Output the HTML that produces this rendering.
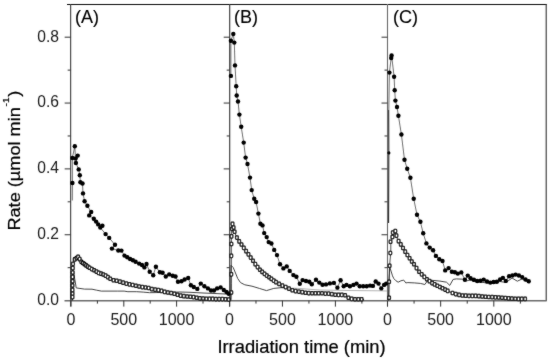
<!DOCTYPE html>
<html><head><meta charset="utf-8"><style>
html,body{margin:0;padding:0;background:#fff;width:550px;height:359px;overflow:hidden}
svg{display:block;filter:grayscale(1)}
</style></head><body><svg width="550" height="359" viewBox="0 0 550 359"><defs><filter id="b" filterUnits="userSpaceOnUse" x="0" y="0" width="550" height="359"><feConvolveMatrix order="3" kernelMatrix="0.3 0.7 0.3 0.7 10 0.7 0.3 0.7 0.3" edgeMode="duplicate" preserveAlpha="false"/></filter></defs><rect x="0" y="0" width="550" height="359" fill="#fff"/><g filter="url(#b)"><line x1="67" y1="4.5" x2="546.7" y2="4.5" stroke="#111" stroke-width="1.15"/><line x1="546.2" y1="4" x2="546.2" y2="301" stroke="#333" stroke-width="1.1"/><line x1="64.5" y1="300.7" x2="546.7" y2="300.7" stroke="#6a6a6a" stroke-width="1.6"/><line x1="70.65" y1="4" x2="70.65" y2="306.5" stroke="#3a3a3a" stroke-width="1.1"/><line x1="67.65" y1="267.68" x2="70.65" y2="267.68" stroke="#333" stroke-width="1"/><line x1="64.65" y1="234.75" x2="70.65" y2="234.75" stroke="#333" stroke-width="1"/><line x1="67.65" y1="201.82" x2="70.65" y2="201.82" stroke="#333" stroke-width="1"/><line x1="64.65" y1="168.90" x2="70.65" y2="168.90" stroke="#333" stroke-width="1"/><line x1="67.65" y1="135.98" x2="70.65" y2="135.98" stroke="#333" stroke-width="1"/><line x1="64.65" y1="103.05" x2="70.65" y2="103.05" stroke="#333" stroke-width="1"/><line x1="67.65" y1="70.12" x2="70.65" y2="70.12" stroke="#333" stroke-width="1"/><line x1="64.65" y1="37.20" x2="70.65" y2="37.20" stroke="#333" stroke-width="1"/><line x1="71.00" y1="300.6" x2="71.00" y2="306.6" stroke="#333" stroke-width="1"/><line x1="97.40" y1="300.6" x2="97.40" y2="303.6" stroke="#333" stroke-width="1"/><line x1="123.80" y1="300.6" x2="123.80" y2="306.6" stroke="#333" stroke-width="1"/><line x1="150.20" y1="300.6" x2="150.20" y2="303.6" stroke="#333" stroke-width="1"/><line x1="176.60" y1="300.6" x2="176.60" y2="306.6" stroke="#333" stroke-width="1"/><line x1="203.00" y1="300.6" x2="203.00" y2="303.6" stroke="#333" stroke-width="1"/><line x1="229.7" y1="4" x2="229.7" y2="306.5" stroke="#333" stroke-width="1.1"/><line x1="226.70" y1="267.68" x2="229.7" y2="267.68" stroke="#333" stroke-width="1"/><line x1="223.70" y1="234.75" x2="229.7" y2="234.75" stroke="#333" stroke-width="1"/><line x1="226.70" y1="201.82" x2="229.7" y2="201.82" stroke="#333" stroke-width="1"/><line x1="223.70" y1="168.90" x2="229.7" y2="168.90" stroke="#333" stroke-width="1"/><line x1="226.70" y1="135.98" x2="229.7" y2="135.98" stroke="#333" stroke-width="1"/><line x1="223.70" y1="103.05" x2="229.7" y2="103.05" stroke="#333" stroke-width="1"/><line x1="226.70" y1="70.12" x2="229.7" y2="70.12" stroke="#333" stroke-width="1"/><line x1="223.70" y1="37.20" x2="229.7" y2="37.20" stroke="#333" stroke-width="1"/><line x1="229.50" y1="300.6" x2="229.50" y2="306.6" stroke="#333" stroke-width="1"/><line x1="255.97" y1="300.6" x2="255.97" y2="303.6" stroke="#333" stroke-width="1"/><line x1="282.45" y1="300.6" x2="282.45" y2="306.6" stroke="#333" stroke-width="1"/><line x1="308.93" y1="300.6" x2="308.93" y2="303.6" stroke="#333" stroke-width="1"/><line x1="335.40" y1="300.6" x2="335.40" y2="306.6" stroke="#333" stroke-width="1"/><line x1="361.88" y1="300.6" x2="361.88" y2="303.6" stroke="#333" stroke-width="1"/><line x1="387.5" y1="4" x2="387.5" y2="306.5" stroke="#6a6a6a" stroke-width="1.1"/><line x1="384.50" y1="267.68" x2="387.5" y2="267.68" stroke="#333" stroke-width="1"/><line x1="381.50" y1="234.75" x2="387.5" y2="234.75" stroke="#333" stroke-width="1"/><line x1="384.50" y1="201.82" x2="387.5" y2="201.82" stroke="#333" stroke-width="1"/><line x1="381.50" y1="168.90" x2="387.5" y2="168.90" stroke="#333" stroke-width="1"/><line x1="384.50" y1="135.98" x2="387.5" y2="135.98" stroke="#333" stroke-width="1"/><line x1="381.50" y1="103.05" x2="387.5" y2="103.05" stroke="#333" stroke-width="1"/><line x1="384.50" y1="70.12" x2="387.5" y2="70.12" stroke="#333" stroke-width="1"/><line x1="381.50" y1="37.20" x2="387.5" y2="37.20" stroke="#333" stroke-width="1"/><line x1="387.50" y1="300.6" x2="387.50" y2="306.6" stroke="#333" stroke-width="1"/><line x1="414.07" y1="300.6" x2="414.07" y2="303.6" stroke="#333" stroke-width="1"/><line x1="440.65" y1="300.6" x2="440.65" y2="306.6" stroke="#333" stroke-width="1"/><line x1="467.23" y1="300.6" x2="467.23" y2="303.6" stroke="#333" stroke-width="1"/><line x1="493.80" y1="300.6" x2="493.80" y2="306.6" stroke="#333" stroke-width="1"/><line x1="520.38" y1="300.6" x2="520.38" y2="303.6" stroke="#333" stroke-width="1"/><text x="58.9" y="305.00" text-anchor="end" style="font-family:&quot;Liberation Sans&quot;,sans-serif;font-size:15.6px" fill="#1a1a1a">0.0</text><text x="58.9" y="239.15" text-anchor="end" style="font-family:&quot;Liberation Sans&quot;,sans-serif;font-size:15.6px" fill="#1a1a1a">0.2</text><text x="58.9" y="173.30" text-anchor="end" style="font-family:&quot;Liberation Sans&quot;,sans-serif;font-size:15.6px" fill="#1a1a1a">0.4</text><text x="58.9" y="107.45" text-anchor="end" style="font-family:&quot;Liberation Sans&quot;,sans-serif;font-size:15.6px" fill="#1a1a1a">0.6</text><text x="58.9" y="41.60" text-anchor="end" style="font-family:&quot;Liberation Sans&quot;,sans-serif;font-size:15.6px" fill="#1a1a1a">0.8</text><text x="71.00" y="324.6" text-anchor="middle" style="font-family:&quot;Liberation Sans&quot;,sans-serif;font-size:16px" fill="#1a1a1a">0</text><text x="123.80" y="324.6" text-anchor="middle" style="font-family:&quot;Liberation Sans&quot;,sans-serif;font-size:16px" fill="#1a1a1a">500</text><text x="176.60" y="324.6" text-anchor="middle" style="font-family:&quot;Liberation Sans&quot;,sans-serif;font-size:16px" fill="#1a1a1a">1000</text><text x="229.50" y="324.6" text-anchor="middle" style="font-family:&quot;Liberation Sans&quot;,sans-serif;font-size:16px" fill="#1a1a1a">0</text><text x="282.45" y="324.6" text-anchor="middle" style="font-family:&quot;Liberation Sans&quot;,sans-serif;font-size:16px" fill="#1a1a1a">500</text><text x="335.40" y="324.6" text-anchor="middle" style="font-family:&quot;Liberation Sans&quot;,sans-serif;font-size:16px" fill="#1a1a1a">1000</text><text x="387.50" y="324.6" text-anchor="middle" style="font-family:&quot;Liberation Sans&quot;,sans-serif;font-size:16px" fill="#1a1a1a">0</text><text x="440.65" y="324.6" text-anchor="middle" style="font-family:&quot;Liberation Sans&quot;,sans-serif;font-size:16px" fill="#1a1a1a">500</text><text x="493.80" y="324.6" text-anchor="middle" style="font-family:&quot;Liberation Sans&quot;,sans-serif;font-size:16px" fill="#1a1a1a">1000</text><text x="74.9" y="22.9" style="font-family:&quot;Liberation Sans&quot;,sans-serif;font-size:18px" fill="#000" stroke="#000" stroke-width="0.12">(A)</text><text x="233.9" y="22.9" style="font-family:&quot;Liberation Sans&quot;,sans-serif;font-size:18px" fill="#000" stroke="#000" stroke-width="0.12">(B)</text><text x="393.1" y="22.9" style="font-family:&quot;Liberation Sans&quot;,sans-serif;font-size:18px" fill="#000" stroke="#000" stroke-width="0.12">(C)</text><text x="217.4" y="352.6" style="font-family:&quot;Liberation Sans&quot;,sans-serif;font-size:18.35px" fill="#000" stroke="#000" stroke-width="0.22">Irradiation time (min)</text><text transform="translate(20.4,230.6) rotate(-90) scale(1.075,1)" x="0" y="0" style="font-family:&quot;Liberation Sans&quot;,sans-serif;font-size:16.9px" fill="#000" stroke="#000" stroke-width="0.22">Rate (µmol min<tspan dx="0.6" dy="-11.8" style="font-size:9.5px">-1</tspan><tspan dx="0.6" dy="11.8">)</tspan></text><polyline points="72.2,300.5 73.5,272.0 75.6,284.0 76.2,287.9 84.4,289.1 92.0,289.2 96.7,290.2 101.3,291.1 117.7,291.1 124.1,291.1 127.9,291.7 136.8,291.7 143.2,292.1 149.5,292.7 160.0,292.5 170.0,292.3 180.0,292.0 190.0,292.3 203.0,293.0 215.0,293.5 229.0,294.2" fill="none" stroke="#444" stroke-width="1.0"/><polyline points="230.6,300.5 231.0,265.3 233.2,267.5 235.9,274.0 237.7,278.5 240.5,282.6 244.8,284.8 252.0,286.2 259.3,288.4 266.5,290.6 273.8,288.4 281.0,287.7 289.5,288.0" fill="none" stroke="#444" stroke-width="1.0"/><polyline points="289.5,288.0 300.0,288.5 310.0,289.3 320.0,290.0 348.0,290.5 380.0,290.8 387.0,291.0" fill="none" stroke="#aaa" stroke-width="0.9"/><polyline points="388.3,300.5 389.5,266.0 392.5,275.9 393.9,278.7 396.0,280.8 398.1,282.2 400.9,280.8 403.7,280.1 405.8,282.9 407.9,282.6 414.2,282.9 420.3,283.4 424.9,284.5 428.0,279.9 440.0,281.1 446.5,282.2 449.8,285.4 453.1,279.4 456.4,278.9 462.9,279.2 466.0,281.0 470.0,280.0 474.0,281.5 480.0,282.0 487.0,283.0 493.0,283.5 500.0,281.5 506.0,282.5 512.0,278.0 517.3,281.2 522.0,279.0 528.0,282.0 530.0,283.0" fill="none" stroke="#444" stroke-width="1.0"/><polyline points="72.0,300.5 72.5,297.1 72.5,293.5 72.5,289.9 72.5,285.5 72.6,281.2 72.6,276.8 72.7,272.5 72.8,268.1 73.0,263.8 74.7,259.4 78.3,256.7 81.2,261.8 84.0,263.8 87.5,266.5 91.5,268.9 95.1,270.8 98.2,272.7 101.3,273.8 104.3,274.8 107.4,276.8 110.5,279.0 113.9,280.4 117.7,280.9 121.5,282.2 125.4,283.4 129.2,284.3 133.0,285.1 136.8,286.0 140.6,286.9 144.4,287.3 148.3,287.9 152.1,289.2 155.9,289.8 159.7,290.2 163.5,291.7 167.3,292.4 171.2,293.0 175.5,294.1 181.8,296.0 187.7,296.5 193.6,297.1 199.6,298.3 205.5,298.7 211.4,298.9 217.3,299.1 223.2,299.1 229.1,299.5" fill="none" stroke="#222" stroke-width="0.8"/><rect x="71.15" y="295.40" width="2.7" height="3.4" rx="0.7" fill="#fff" stroke="#000" stroke-width="1.25"/><rect x="71.15" y="291.80" width="2.7" height="3.4" rx="0.7" fill="#fff" stroke="#000" stroke-width="1.25"/><rect x="71.15" y="288.20" width="2.7" height="3.4" rx="0.7" fill="#fff" stroke="#000" stroke-width="1.25"/><rect x="71.15" y="283.80" width="2.7" height="3.4" rx="0.7" fill="#fff" stroke="#000" stroke-width="1.25"/><rect x="71.25" y="279.50" width="2.7" height="3.4" rx="0.7" fill="#fff" stroke="#000" stroke-width="1.25"/><rect x="71.25" y="275.10" width="2.7" height="3.4" rx="0.7" fill="#fff" stroke="#000" stroke-width="1.25"/><rect x="71.35" y="270.80" width="2.7" height="3.4" rx="0.7" fill="#fff" stroke="#000" stroke-width="1.25"/><rect x="71.45" y="266.40" width="2.7" height="3.4" rx="0.7" fill="#fff" stroke="#000" stroke-width="1.25"/><rect x="71.65" y="262.10" width="2.7" height="3.4" rx="0.7" fill="#fff" stroke="#000" stroke-width="1.25"/><rect x="73.35" y="257.70" width="2.7" height="3.4" rx="0.7" fill="#fff" stroke="#000" stroke-width="1.25"/><rect x="75.15" y="256.35" width="2.7" height="3.4" rx="0.7" fill="#fff" stroke="#000" stroke-width="1.25"/><rect x="76.75" y="255.15" width="2.7" height="3.4" rx="0.7" fill="#fff" stroke="#000" stroke-width="1.25"/><rect x="78.35" y="257.46" width="2.7" height="3.4" rx="0.7" fill="#fff" stroke="#000" stroke-width="1.25"/><rect x="79.95" y="260.17" width="2.7" height="3.4" rx="0.7" fill="#fff" stroke="#000" stroke-width="1.25"/><rect x="81.55" y="261.31" width="2.7" height="3.4" rx="0.7" fill="#fff" stroke="#000" stroke-width="1.25"/><rect x="83.15" y="262.49" width="2.7" height="3.4" rx="0.7" fill="#fff" stroke="#000" stroke-width="1.25"/><rect x="84.75" y="263.72" width="2.7" height="3.4" rx="0.7" fill="#fff" stroke="#000" stroke-width="1.25"/><rect x="86.35" y="264.92" width="2.7" height="3.4" rx="0.7" fill="#fff" stroke="#000" stroke-width="1.25"/><rect x="88.15" y="266.00" width="2.7" height="3.4" rx="0.7" fill="#fff" stroke="#000" stroke-width="1.25"/><rect x="90.45" y="267.36" width="2.7" height="3.4" rx="0.7" fill="#fff" stroke="#000" stroke-width="1.25"/><rect x="92.75" y="268.57" width="2.7" height="3.4" rx="0.7" fill="#fff" stroke="#000" stroke-width="1.25"/><rect x="95.05" y="269.90" width="2.7" height="3.4" rx="0.7" fill="#fff" stroke="#000" stroke-width="1.25"/><rect x="97.35" y="271.18" width="2.7" height="3.4" rx="0.7" fill="#fff" stroke="#000" stroke-width="1.25"/><rect x="99.65" y="271.99" width="2.7" height="3.4" rx="0.7" fill="#fff" stroke="#000" stroke-width="1.25"/><rect x="101.95" y="272.77" width="2.7" height="3.4" rx="0.7" fill="#fff" stroke="#000" stroke-width="1.25"/><rect x="104.25" y="273.94" width="2.7" height="3.4" rx="0.7" fill="#fff" stroke="#000" stroke-width="1.25"/><rect x="106.55" y="275.45" width="2.7" height="3.4" rx="0.7" fill="#fff" stroke="#000" stroke-width="1.25"/><rect x="108.85" y="277.09" width="2.7" height="3.4" rx="0.7" fill="#fff" stroke="#000" stroke-width="1.25"/><rect x="112.15" y="278.54" width="2.7" height="3.4" rx="0.7" fill="#fff" stroke="#000" stroke-width="1.25"/><rect x="115.35" y="279.07" width="2.7" height="3.4" rx="0.7" fill="#fff" stroke="#000" stroke-width="1.25"/><rect x="118.55" y="279.95" width="2.7" height="3.4" rx="0.7" fill="#fff" stroke="#000" stroke-width="1.25"/><rect x="121.75" y="280.99" width="2.7" height="3.4" rx="0.7" fill="#fff" stroke="#000" stroke-width="1.25"/><rect x="124.95" y="281.91" width="2.7" height="3.4" rx="0.7" fill="#fff" stroke="#000" stroke-width="1.25"/><rect x="128.15" y="282.66" width="2.7" height="3.4" rx="0.7" fill="#fff" stroke="#000" stroke-width="1.25"/><rect x="131.35" y="283.34" width="2.7" height="3.4" rx="0.7" fill="#fff" stroke="#000" stroke-width="1.25"/><rect x="134.55" y="284.09" width="2.7" height="3.4" rx="0.7" fill="#fff" stroke="#000" stroke-width="1.25"/><rect x="137.75" y="284.84" width="2.7" height="3.4" rx="0.7" fill="#fff" stroke="#000" stroke-width="1.25"/><rect x="140.95" y="285.38" width="2.7" height="3.4" rx="0.7" fill="#fff" stroke="#000" stroke-width="1.25"/><rect x="144.15" y="285.77" width="2.7" height="3.4" rx="0.7" fill="#fff" stroke="#000" stroke-width="1.25"/><rect x="147.35" y="286.34" width="2.7" height="3.4" rx="0.7" fill="#fff" stroke="#000" stroke-width="1.25"/><rect x="150.55" y="287.43" width="2.7" height="3.4" rx="0.7" fill="#fff" stroke="#000" stroke-width="1.25"/><rect x="153.75" y="287.97" width="2.7" height="3.4" rx="0.7" fill="#fff" stroke="#000" stroke-width="1.25"/><rect x="156.95" y="288.35" width="2.7" height="3.4" rx="0.7" fill="#fff" stroke="#000" stroke-width="1.25"/><rect x="160.15" y="289.21" width="2.7" height="3.4" rx="0.7" fill="#fff" stroke="#000" stroke-width="1.25"/><rect x="163.35" y="290.22" width="2.7" height="3.4" rx="0.7" fill="#fff" stroke="#000" stroke-width="1.25"/><rect x="166.55" y="290.79" width="2.7" height="3.4" rx="0.7" fill="#fff" stroke="#000" stroke-width="1.25"/><rect x="169.75" y="291.28" width="2.7" height="3.4" rx="0.7" fill="#fff" stroke="#000" stroke-width="1.25"/><rect x="172.95" y="292.09" width="2.7" height="3.4" rx="0.7" fill="#fff" stroke="#000" stroke-width="1.25"/><rect x="176.15" y="293.00" width="2.7" height="3.4" rx="0.7" fill="#fff" stroke="#000" stroke-width="1.25"/><rect x="179.35" y="293.97" width="2.7" height="3.4" rx="0.7" fill="#fff" stroke="#000" stroke-width="1.25"/><rect x="182.55" y="294.48" width="2.7" height="3.4" rx="0.7" fill="#fff" stroke="#000" stroke-width="1.25"/><rect x="185.75" y="294.75" width="2.7" height="3.4" rx="0.7" fill="#fff" stroke="#000" stroke-width="1.25"/><rect x="188.95" y="295.06" width="2.7" height="3.4" rx="0.7" fill="#fff" stroke="#000" stroke-width="1.25"/><rect x="192.15" y="295.39" width="2.7" height="3.4" rx="0.7" fill="#fff" stroke="#000" stroke-width="1.25"/><rect x="195.35" y="296.02" width="2.7" height="3.4" rx="0.7" fill="#fff" stroke="#000" stroke-width="1.25"/><rect x="198.55" y="296.62" width="2.7" height="3.4" rx="0.7" fill="#fff" stroke="#000" stroke-width="1.25"/><rect x="201.75" y="296.84" width="2.7" height="3.4" rx="0.7" fill="#fff" stroke="#000" stroke-width="1.25"/><rect x="204.95" y="297.03" width="2.7" height="3.4" rx="0.7" fill="#fff" stroke="#000" stroke-width="1.25"/><rect x="208.15" y="297.14" width="2.7" height="3.4" rx="0.7" fill="#fff" stroke="#000" stroke-width="1.25"/><rect x="211.35" y="297.24" width="2.7" height="3.4" rx="0.7" fill="#fff" stroke="#000" stroke-width="1.25"/><rect x="214.55" y="297.35" width="2.7" height="3.4" rx="0.7" fill="#fff" stroke="#000" stroke-width="1.25"/><rect x="217.75" y="297.40" width="2.7" height="3.4" rx="0.7" fill="#fff" stroke="#000" stroke-width="1.25"/><rect x="220.95" y="297.40" width="2.7" height="3.4" rx="0.7" fill="#fff" stroke="#000" stroke-width="1.25"/><rect x="224.15" y="297.56" width="2.7" height="3.4" rx="0.7" fill="#fff" stroke="#000" stroke-width="1.25"/><rect x="227.35" y="297.77" width="2.7" height="3.4" rx="0.7" fill="#fff" stroke="#000" stroke-width="1.25"/><polyline points="231.0,300.5 231.3,292.5 231.3,283.4 231.3,274.3 231.3,265.0 231.3,255.3 231.3,243.6 231.5,233.6 232.5,223.6 233.5,228.5 236.2,236.4 238.9,241.0 241.6,244.6 244.3,248.6 247.0,252.4 249.7,256.2 252.5,260.0 255.2,264.0 257.9,267.5 260.6,270.5 264.2,273.6 267.9,276.4 271.5,279.0 275.1,281.6 278.5,283.6 282.0,285.5 285.9,287.2 289.5,288.9 293.0,290.6 296.5,291.2 300.1,291.8 303.6,292.4 307.2,293.0 310.7,293.2 314.3,293.2 317.8,293.2 321.4,293.2 324.9,293.6 328.5,293.6 332.0,294.2 335.6,294.8 339.1,294.8 342.6,294.8 345.7,295.4 348.5,297.8 350.4,298.7 354.2,299.2 358.0,299.2 361.7,299.2 364.1,299.6" fill="none" stroke="#222" stroke-width="0.8"/><rect x="229.95" y="290.80" width="2.7" height="3.4" rx="0.7" fill="#fff" stroke="#000" stroke-width="1.25"/><rect x="229.95" y="272.60" width="2.7" height="3.4" rx="0.7" fill="#fff" stroke="#000" stroke-width="1.25"/><rect x="229.95" y="254.10" width="2.7" height="3.4" rx="0.7" fill="#fff" stroke="#000" stroke-width="1.25"/><rect x="230.05" y="242.30" width="2.7" height="3.4" rx="0.7" fill="#fff" stroke="#000" stroke-width="1.25"/><rect x="230.15" y="234.60" width="2.7" height="3.4" rx="0.7" fill="#fff" stroke="#000" stroke-width="1.25"/><rect x="230.65" y="227.10" width="2.7" height="3.4" rx="0.7" fill="#fff" stroke="#000" stroke-width="1.25"/><rect x="231.15" y="222.10" width="2.7" height="3.4" rx="0.7" fill="#fff" stroke="#000" stroke-width="1.25"/><rect x="232.25" y="225.80" width="2.7" height="3.4" rx="0.7" fill="#fff" stroke="#000" stroke-width="1.25"/><rect x="233.25" y="230.02" width="2.7" height="3.4" rx="0.7" fill="#fff" stroke="#000" stroke-width="1.25"/><rect x="235.55" y="235.89" width="2.7" height="3.4" rx="0.7" fill="#fff" stroke="#000" stroke-width="1.25"/><rect x="237.85" y="239.70" width="2.7" height="3.4" rx="0.7" fill="#fff" stroke="#000" stroke-width="1.25"/><rect x="240.15" y="242.77" width="2.7" height="3.4" rx="0.7" fill="#fff" stroke="#000" stroke-width="1.25"/><rect x="242.45" y="246.16" width="2.7" height="3.4" rx="0.7" fill="#fff" stroke="#000" stroke-width="1.25"/><rect x="244.75" y="249.43" width="2.7" height="3.4" rx="0.7" fill="#fff" stroke="#000" stroke-width="1.25"/><rect x="247.05" y="252.67" width="2.7" height="3.4" rx="0.7" fill="#fff" stroke="#000" stroke-width="1.25"/><rect x="249.35" y="255.86" width="2.7" height="3.4" rx="0.7" fill="#fff" stroke="#000" stroke-width="1.25"/><rect x="251.65" y="259.04" width="2.7" height="3.4" rx="0.7" fill="#fff" stroke="#000" stroke-width="1.25"/><rect x="253.95" y="262.43" width="2.7" height="3.4" rx="0.7" fill="#fff" stroke="#000" stroke-width="1.25"/><rect x="256.25" y="265.41" width="2.7" height="3.4" rx="0.7" fill="#fff" stroke="#000" stroke-width="1.25"/><rect x="258.55" y="268.02" width="2.7" height="3.4" rx="0.7" fill="#fff" stroke="#000" stroke-width="1.25"/><rect x="260.85" y="270.18" width="2.7" height="3.4" rx="0.7" fill="#fff" stroke="#000" stroke-width="1.25"/><rect x="263.15" y="272.13" width="2.7" height="3.4" rx="0.7" fill="#fff" stroke="#000" stroke-width="1.25"/><rect x="265.45" y="273.87" width="2.7" height="3.4" rx="0.7" fill="#fff" stroke="#000" stroke-width="1.25"/><rect x="267.75" y="275.57" width="2.7" height="3.4" rx="0.7" fill="#fff" stroke="#000" stroke-width="1.25"/><rect x="270.05" y="277.23" width="2.7" height="3.4" rx="0.7" fill="#fff" stroke="#000" stroke-width="1.25"/><rect x="272.35" y="278.89" width="2.7" height="3.4" rx="0.7" fill="#fff" stroke="#000" stroke-width="1.25"/><rect x="274.65" y="280.43" width="2.7" height="3.4" rx="0.7" fill="#fff" stroke="#000" stroke-width="1.25"/><rect x="277.75" y="282.23" width="2.7" height="3.4" rx="0.7" fill="#fff" stroke="#000" stroke-width="1.25"/><rect x="281.05" y="283.97" width="2.7" height="3.4" rx="0.7" fill="#fff" stroke="#000" stroke-width="1.25"/><rect x="284.35" y="285.41" width="2.7" height="3.4" rx="0.7" fill="#fff" stroke="#000" stroke-width="1.25"/><rect x="287.65" y="286.96" width="2.7" height="3.4" rx="0.7" fill="#fff" stroke="#000" stroke-width="1.25"/><rect x="290.95" y="288.56" width="2.7" height="3.4" rx="0.7" fill="#fff" stroke="#000" stroke-width="1.25"/><rect x="294.25" y="289.35" width="2.7" height="3.4" rx="0.7" fill="#fff" stroke="#000" stroke-width="1.25"/><rect x="297.55" y="289.90" width="2.7" height="3.4" rx="0.7" fill="#fff" stroke="#000" stroke-width="1.25"/><rect x="300.85" y="290.46" width="2.7" height="3.4" rx="0.7" fill="#fff" stroke="#000" stroke-width="1.25"/><rect x="304.15" y="291.02" width="2.7" height="3.4" rx="0.7" fill="#fff" stroke="#000" stroke-width="1.25"/><rect x="307.45" y="291.39" width="2.7" height="3.4" rx="0.7" fill="#fff" stroke="#000" stroke-width="1.25"/><rect x="310.75" y="291.50" width="2.7" height="3.4" rx="0.7" fill="#fff" stroke="#000" stroke-width="1.25"/><rect x="314.05" y="291.50" width="2.7" height="3.4" rx="0.7" fill="#fff" stroke="#000" stroke-width="1.25"/><rect x="317.35" y="291.50" width="2.7" height="3.4" rx="0.7" fill="#fff" stroke="#000" stroke-width="1.25"/><rect x="320.65" y="291.57" width="2.7" height="3.4" rx="0.7" fill="#fff" stroke="#000" stroke-width="1.25"/><rect x="323.95" y="291.90" width="2.7" height="3.4" rx="0.7" fill="#fff" stroke="#000" stroke-width="1.25"/><rect x="327.25" y="291.92" width="2.7" height="3.4" rx="0.7" fill="#fff" stroke="#000" stroke-width="1.25"/><rect x="330.55" y="292.48" width="2.7" height="3.4" rx="0.7" fill="#fff" stroke="#000" stroke-width="1.25"/><rect x="333.85" y="293.03" width="2.7" height="3.4" rx="0.7" fill="#fff" stroke="#000" stroke-width="1.25"/><rect x="337.15" y="293.10" width="2.7" height="3.4" rx="0.7" fill="#fff" stroke="#000" stroke-width="1.25"/><rect x="340.45" y="293.10" width="2.7" height="3.4" rx="0.7" fill="#fff" stroke="#000" stroke-width="1.25"/><rect x="343.75" y="293.58" width="2.7" height="3.4" rx="0.7" fill="#fff" stroke="#000" stroke-width="1.25"/><rect x="347.05" y="296.01" width="2.7" height="3.4" rx="0.7" fill="#fff" stroke="#000" stroke-width="1.25"/><rect x="350.35" y="297.17" width="2.7" height="3.4" rx="0.7" fill="#fff" stroke="#000" stroke-width="1.25"/><rect x="353.65" y="297.50" width="2.7" height="3.4" rx="0.7" fill="#fff" stroke="#000" stroke-width="1.25"/><rect x="356.95" y="297.50" width="2.7" height="3.4" rx="0.7" fill="#fff" stroke="#000" stroke-width="1.25"/><rect x="360.25" y="297.50" width="2.7" height="3.4" rx="0.7" fill="#fff" stroke="#000" stroke-width="1.25"/><polyline points="388.5,300.5 389.0,297.5 389.0,289.5 389.0,281.5 389.5,273.0 389.7,264.5 390.8,251.8 390.8,241.7 392.5,238.4 392.5,232.8 395.3,231.1 396.4,235.6 397.5,239.5 399.7,242.8 402.0,246.2 403.6,249.0 405.3,251.8 407.4,255.0 409.4,257.9 411.4,261.0 414.2,264.5 416.5,268.1 418.8,271.4 421.1,273.7 423.4,276.0 425.7,278.3 428.7,280.6 431.8,282.9 434.9,284.5 437.9,286.0 441.0,287.5 444.0,289.0 447.1,290.6 450.2,292.1 454.0,293.6 457.8,294.7 461.7,295.4 466.3,295.7 470.8,295.9 476.4,295.9 484.5,296.7 492.7,297.2 500.9,297.6 509.1,298.4 517.3,298.9 525.5,298.9" fill="none" stroke="#222" stroke-width="0.8"/><rect x="387.75" y="296.00" width="2.7" height="3.4" rx="0.7" fill="#fff" stroke="#000" stroke-width="1.25"/><rect x="387.75" y="280.00" width="2.7" height="3.4" rx="0.7" fill="#fff" stroke="#000" stroke-width="1.25"/><rect x="388.25" y="264.00" width="2.7" height="3.4" rx="0.7" fill="#fff" stroke="#000" stroke-width="1.25"/><rect x="388.95" y="251.30" width="2.7" height="3.4" rx="0.7" fill="#fff" stroke="#000" stroke-width="1.25"/><rect x="389.15" y="240.00" width="2.7" height="3.4" rx="0.7" fill="#fff" stroke="#000" stroke-width="1.25"/><rect x="391.05" y="235.30" width="2.7" height="3.4" rx="0.7" fill="#fff" stroke="#000" stroke-width="1.25"/><rect x="391.45" y="230.90" width="2.7" height="3.4" rx="0.7" fill="#fff" stroke="#000" stroke-width="1.25"/><rect x="393.95" y="229.40" width="2.7" height="3.4" rx="0.7" fill="#fff" stroke="#000" stroke-width="1.25"/><rect x="395.05" y="233.90" width="2.7" height="3.4" rx="0.7" fill="#fff" stroke="#000" stroke-width="1.25"/><rect x="397.25" y="239.45" width="2.7" height="3.4" rx="0.7" fill="#fff" stroke="#000" stroke-width="1.25"/><rect x="399.45" y="242.73" width="2.7" height="3.4" rx="0.7" fill="#fff" stroke="#000" stroke-width="1.25"/><rect x="401.65" y="246.25" width="2.7" height="3.4" rx="0.7" fill="#fff" stroke="#000" stroke-width="1.25"/><rect x="403.85" y="249.94" width="2.7" height="3.4" rx="0.7" fill="#fff" stroke="#000" stroke-width="1.25"/><rect x="406.05" y="253.30" width="2.7" height="3.4" rx="0.7" fill="#fff" stroke="#000" stroke-width="1.25"/><rect x="408.25" y="256.51" width="2.7" height="3.4" rx="0.7" fill="#fff" stroke="#000" stroke-width="1.25"/><rect x="410.45" y="259.80" width="2.7" height="3.4" rx="0.7" fill="#fff" stroke="#000" stroke-width="1.25"/><rect x="412.65" y="262.55" width="2.7" height="3.4" rx="0.7" fill="#fff" stroke="#000" stroke-width="1.25"/><rect x="415.15" y="266.40" width="2.7" height="3.4" rx="0.7" fill="#fff" stroke="#000" stroke-width="1.25"/><rect x="417.75" y="270.00" width="2.7" height="3.4" rx="0.7" fill="#fff" stroke="#000" stroke-width="1.25"/><rect x="420.35" y="272.60" width="2.7" height="3.4" rx="0.7" fill="#fff" stroke="#000" stroke-width="1.25"/><rect x="422.95" y="275.20" width="2.7" height="3.4" rx="0.7" fill="#fff" stroke="#000" stroke-width="1.25"/><rect x="425.55" y="277.52" width="2.7" height="3.4" rx="0.7" fill="#fff" stroke="#000" stroke-width="1.25"/><rect x="428.15" y="279.49" width="2.7" height="3.4" rx="0.7" fill="#fff" stroke="#000" stroke-width="1.25"/><rect x="430.75" y="281.35" width="2.7" height="3.4" rx="0.7" fill="#fff" stroke="#000" stroke-width="1.25"/><rect x="433.35" y="282.70" width="2.7" height="3.4" rx="0.7" fill="#fff" stroke="#000" stroke-width="1.25"/><rect x="435.95" y="284.00" width="2.7" height="3.4" rx="0.7" fill="#fff" stroke="#000" stroke-width="1.25"/><rect x="438.55" y="285.27" width="2.7" height="3.4" rx="0.7" fill="#fff" stroke="#000" stroke-width="1.25"/><rect x="441.15" y="286.55" width="2.7" height="3.4" rx="0.7" fill="#fff" stroke="#000" stroke-width="1.25"/><rect x="443.75" y="287.87" width="2.7" height="3.4" rx="0.7" fill="#fff" stroke="#000" stroke-width="1.25"/><rect x="446.35" y="289.19" width="2.7" height="3.4" rx="0.7" fill="#fff" stroke="#000" stroke-width="1.25"/><rect x="451.15" y="291.31" width="2.7" height="3.4" rx="0.7" fill="#fff" stroke="#000" stroke-width="1.25"/><rect x="454.45" y="292.42" width="2.7" height="3.4" rx="0.7" fill="#fff" stroke="#000" stroke-width="1.25"/><rect x="457.75" y="293.23" width="2.7" height="3.4" rx="0.7" fill="#fff" stroke="#000" stroke-width="1.25"/><rect x="461.05" y="293.75" width="2.7" height="3.4" rx="0.7" fill="#fff" stroke="#000" stroke-width="1.25"/><rect x="464.35" y="293.96" width="2.7" height="3.4" rx="0.7" fill="#fff" stroke="#000" stroke-width="1.25"/><rect x="467.65" y="294.12" width="2.7" height="3.4" rx="0.7" fill="#fff" stroke="#000" stroke-width="1.25"/><rect x="470.95" y="294.20" width="2.7" height="3.4" rx="0.7" fill="#fff" stroke="#000" stroke-width="1.25"/><rect x="474.25" y="294.20" width="2.7" height="3.4" rx="0.7" fill="#fff" stroke="#000" stroke-width="1.25"/><rect x="477.55" y="294.45" width="2.7" height="3.4" rx="0.7" fill="#fff" stroke="#000" stroke-width="1.25"/><rect x="480.85" y="294.77" width="2.7" height="3.4" rx="0.7" fill="#fff" stroke="#000" stroke-width="1.25"/><rect x="484.15" y="295.06" width="2.7" height="3.4" rx="0.7" fill="#fff" stroke="#000" stroke-width="1.25"/><rect x="487.45" y="295.26" width="2.7" height="3.4" rx="0.7" fill="#fff" stroke="#000" stroke-width="1.25"/><rect x="490.75" y="295.46" width="2.7" height="3.4" rx="0.7" fill="#fff" stroke="#000" stroke-width="1.25"/><rect x="494.05" y="295.63" width="2.7" height="3.4" rx="0.7" fill="#fff" stroke="#000" stroke-width="1.25"/><rect x="497.35" y="295.79" width="2.7" height="3.4" rx="0.7" fill="#fff" stroke="#000" stroke-width="1.25"/><rect x="500.65" y="296.01" width="2.7" height="3.4" rx="0.7" fill="#fff" stroke="#000" stroke-width="1.25"/><rect x="503.95" y="296.33" width="2.7" height="3.4" rx="0.7" fill="#fff" stroke="#000" stroke-width="1.25"/><rect x="507.25" y="296.65" width="2.7" height="3.4" rx="0.7" fill="#fff" stroke="#000" stroke-width="1.25"/><rect x="510.55" y="296.87" width="2.7" height="3.4" rx="0.7" fill="#fff" stroke="#000" stroke-width="1.25"/><rect x="513.85" y="297.07" width="2.7" height="3.4" rx="0.7" fill="#fff" stroke="#000" stroke-width="1.25"/><rect x="517.15" y="297.20" width="2.7" height="3.4" rx="0.7" fill="#fff" stroke="#000" stroke-width="1.25"/><rect x="520.45" y="297.20" width="2.7" height="3.4" rx="0.7" fill="#fff" stroke="#000" stroke-width="1.25"/><rect x="523.75" y="297.20" width="2.7" height="3.4" rx="0.7" fill="#fff" stroke="#000" stroke-width="1.25"/><polyline points="72.3,200.5 72.4,183.0 72.3,158.0 74.8,146.3 75.5,158.5 77.7,155.6 75.9,163.0 78.7,169.4 79.8,175.2 80.4,182.3 82.5,183.5 83.0,193.4 84.6,201.3 87.4,205.8 91.2,212.0 89.2,215.4 93.8,218.7 96.1,221.6 98.2,224.4 102.4,225.8 100.3,227.6 105.6,234.1 109.2,237.9 115.0,244.8 111.9,248.6 118.3,250.5 121.4,250.6 124.5,255.6 127.3,257.3 130.1,259.0 132.9,260.3 135.6,261.7 139.1,263.6 142.0,265.0 144.4,267.4 146.5,264.0 149.7,271.8 153.2,275.2 155.9,266.8 159.9,272.3 162.6,272.8 165.8,276.5 169.2,274.4 172.7,275.8 175.5,276.5 178.0,281.8 181.5,281.2 184.6,279.5 188.2,278.0 190.9,285.2 193.8,287.0 197.3,288.9 200.8,283.6 204.4,286.2 207.9,288.4 211.0,290.5 214.0,290.5 217.1,288.4 220.6,287.4 223.8,290.0 226.5,292.0 228.7,293.8" fill="none" stroke="#333" stroke-width="0.7"/><circle cx="72.4" cy="183.0" r="2.2" fill="#000"/><circle cx="72.3" cy="158.0" r="2.2" fill="#000"/><circle cx="74.8" cy="146.3" r="2.2" fill="#000"/><circle cx="75.5" cy="158.5" r="2.2" fill="#000"/><circle cx="77.7" cy="155.6" r="2.2" fill="#000"/><circle cx="75.9" cy="163.0" r="2.2" fill="#000"/><circle cx="78.7" cy="169.4" r="2.2" fill="#000"/><circle cx="79.8" cy="175.2" r="2.2" fill="#000"/><circle cx="80.4" cy="182.3" r="2.2" fill="#000"/><circle cx="82.5" cy="183.5" r="2.2" fill="#000"/><circle cx="83.0" cy="193.4" r="2.2" fill="#000"/><circle cx="84.6" cy="201.3" r="2.2" fill="#000"/><circle cx="87.4" cy="205.8" r="2.2" fill="#000"/><circle cx="91.2" cy="212.0" r="2.2" fill="#000"/><circle cx="89.2" cy="215.4" r="2.2" fill="#000"/><circle cx="93.8" cy="218.7" r="2.2" fill="#000"/><circle cx="96.1" cy="221.6" r="2.2" fill="#000"/><circle cx="98.2" cy="224.4" r="2.2" fill="#000"/><circle cx="102.4" cy="225.8" r="2.2" fill="#000"/><circle cx="100.3" cy="227.6" r="2.2" fill="#000"/><circle cx="105.6" cy="234.1" r="2.2" fill="#000"/><circle cx="109.2" cy="237.9" r="2.2" fill="#000"/><circle cx="115.0" cy="244.8" r="2.2" fill="#000"/><circle cx="111.9" cy="248.6" r="2.2" fill="#000"/><circle cx="118.3" cy="250.5" r="2.2" fill="#000"/><circle cx="121.4" cy="250.6" r="2.2" fill="#000"/><circle cx="124.5" cy="255.6" r="2.2" fill="#000"/><circle cx="127.3" cy="257.3" r="2.2" fill="#000"/><circle cx="130.1" cy="259.0" r="2.2" fill="#000"/><circle cx="132.9" cy="260.3" r="2.2" fill="#000"/><circle cx="135.6" cy="261.7" r="2.2" fill="#000"/><circle cx="139.1" cy="263.6" r="2.2" fill="#000"/><circle cx="142.0" cy="265.0" r="2.2" fill="#000"/><circle cx="144.4" cy="267.4" r="2.2" fill="#000"/><circle cx="146.5" cy="264.0" r="2.2" fill="#000"/><circle cx="149.7" cy="271.8" r="2.2" fill="#000"/><circle cx="153.2" cy="275.2" r="2.2" fill="#000"/><circle cx="155.9" cy="266.8" r="2.2" fill="#000"/><circle cx="159.9" cy="272.3" r="2.2" fill="#000"/><circle cx="162.6" cy="272.8" r="2.2" fill="#000"/><circle cx="165.8" cy="276.5" r="2.2" fill="#000"/><circle cx="169.2" cy="274.4" r="2.2" fill="#000"/><circle cx="172.7" cy="275.8" r="2.2" fill="#000"/><circle cx="175.5" cy="276.5" r="2.2" fill="#000"/><circle cx="178.0" cy="281.8" r="2.2" fill="#000"/><circle cx="181.5" cy="281.2" r="2.2" fill="#000"/><circle cx="184.6" cy="279.5" r="2.2" fill="#000"/><circle cx="188.2" cy="278.0" r="2.2" fill="#000"/><circle cx="190.9" cy="285.2" r="2.2" fill="#000"/><circle cx="193.8" cy="287.0" r="2.2" fill="#000"/><circle cx="197.3" cy="288.9" r="2.2" fill="#000"/><circle cx="200.8" cy="283.6" r="2.2" fill="#000"/><circle cx="204.4" cy="286.2" r="2.2" fill="#000"/><circle cx="207.9" cy="288.4" r="2.2" fill="#000"/><circle cx="211.0" cy="290.5" r="2.2" fill="#000"/><circle cx="214.0" cy="290.5" r="2.2" fill="#000"/><circle cx="217.1" cy="288.4" r="2.2" fill="#000"/><circle cx="220.6" cy="287.4" r="2.2" fill="#000"/><circle cx="223.8" cy="290.0" r="2.2" fill="#000"/><circle cx="226.5" cy="292.0" r="2.2" fill="#000"/><circle cx="228.7" cy="293.8" r="2.2" fill="#000"/><polyline points="230.9,75.9 230.9,40.7 233.3,33.9 234.3,42.6 235.0,65.4 236.2,86.3 236.7,95.5 238.0,101.5 239.4,114.6 241.2,126.7 243.7,142.6 245.6,157.6 247.5,164.0 250.0,177.6 251.7,190.1 254.2,198.8 256.1,202.0 258.4,213.6 260.4,223.7 262.5,225.4 264.2,233.1 266.7,237.1 268.7,242.1 271.4,243.5 274.2,249.9 277.0,255.1 280.0,264.2 283.4,268.4 286.7,266.4 289.7,270.9 293.4,275.1 296.4,276.8 299.8,283.8 302.6,280.1 306.0,281.0 309.3,281.8 311.8,284.3 316.0,279.8 319.3,282.6 322.5,284.8 326.0,284.4 329.9,283.4 333.9,282.9 337.4,287.7 340.6,280.3 343.7,286.3 346.5,284.9 349.9,286.3 353.4,284.9 356.5,283.6 359.7,286.3 363.2,286.3 366.7,286.3 370.1,285.6 372.9,285.9 375.7,281.5 378.5,283.6 381.3,288.4 384.1,284.9 386.2,283.6" fill="none" stroke="#333" stroke-width="0.7"/><circle cx="230.9" cy="75.9" r="2.2" fill="#000"/><circle cx="230.9" cy="40.7" r="2.2" fill="#000"/><circle cx="233.3" cy="33.9" r="2.2" fill="#000"/><circle cx="234.3" cy="42.6" r="2.2" fill="#000"/><circle cx="235.0" cy="65.4" r="2.2" fill="#000"/><circle cx="236.2" cy="86.3" r="2.2" fill="#000"/><circle cx="236.7" cy="95.5" r="2.2" fill="#000"/><circle cx="238.0" cy="101.5" r="2.2" fill="#000"/><circle cx="239.4" cy="114.6" r="2.2" fill="#000"/><circle cx="241.2" cy="126.7" r="2.2" fill="#000"/><circle cx="243.7" cy="142.6" r="2.2" fill="#000"/><circle cx="245.6" cy="157.6" r="2.2" fill="#000"/><circle cx="247.5" cy="164.0" r="2.2" fill="#000"/><circle cx="250.0" cy="177.6" r="2.2" fill="#000"/><circle cx="251.7" cy="190.1" r="2.2" fill="#000"/><circle cx="254.2" cy="198.8" r="2.2" fill="#000"/><circle cx="256.1" cy="202.0" r="2.2" fill="#000"/><circle cx="258.4" cy="213.6" r="2.2" fill="#000"/><circle cx="260.4" cy="223.7" r="2.2" fill="#000"/><circle cx="262.5" cy="225.4" r="2.2" fill="#000"/><circle cx="264.2" cy="233.1" r="2.2" fill="#000"/><circle cx="266.7" cy="237.1" r="2.2" fill="#000"/><circle cx="268.7" cy="242.1" r="2.2" fill="#000"/><circle cx="271.4" cy="243.5" r="2.2" fill="#000"/><circle cx="274.2" cy="249.9" r="2.2" fill="#000"/><circle cx="277.0" cy="255.1" r="2.2" fill="#000"/><circle cx="280.0" cy="264.2" r="2.2" fill="#000"/><circle cx="283.4" cy="268.4" r="2.2" fill="#000"/><circle cx="286.7" cy="266.4" r="2.2" fill="#000"/><circle cx="289.7" cy="270.9" r="2.2" fill="#000"/><circle cx="293.4" cy="275.1" r="2.2" fill="#000"/><circle cx="296.4" cy="276.8" r="2.2" fill="#000"/><circle cx="299.8" cy="283.8" r="2.2" fill="#000"/><circle cx="302.6" cy="280.1" r="2.2" fill="#000"/><circle cx="306.0" cy="281.0" r="2.2" fill="#000"/><circle cx="309.3" cy="281.8" r="2.2" fill="#000"/><circle cx="311.8" cy="284.3" r="2.2" fill="#000"/><circle cx="316.0" cy="279.8" r="2.2" fill="#000"/><circle cx="319.3" cy="282.6" r="2.2" fill="#000"/><circle cx="322.5" cy="284.8" r="2.2" fill="#000"/><circle cx="326.0" cy="284.4" r="2.2" fill="#000"/><circle cx="329.9" cy="283.4" r="2.2" fill="#000"/><circle cx="333.9" cy="282.9" r="2.2" fill="#000"/><circle cx="337.4" cy="287.7" r="2.2" fill="#000"/><circle cx="340.6" cy="280.3" r="2.2" fill="#000"/><circle cx="343.7" cy="286.3" r="2.2" fill="#000"/><circle cx="346.5" cy="284.9" r="2.2" fill="#000"/><circle cx="349.9" cy="286.3" r="2.2" fill="#000"/><circle cx="353.4" cy="284.9" r="2.2" fill="#000"/><circle cx="356.5" cy="283.6" r="2.2" fill="#000"/><circle cx="359.7" cy="286.3" r="2.2" fill="#000"/><circle cx="363.2" cy="286.3" r="2.2" fill="#000"/><circle cx="366.7" cy="286.3" r="2.2" fill="#000"/><circle cx="370.1" cy="285.6" r="2.2" fill="#000"/><circle cx="372.9" cy="285.9" r="2.2" fill="#000"/><circle cx="375.7" cy="281.5" r="2.2" fill="#000"/><circle cx="378.5" cy="283.6" r="2.2" fill="#000"/><circle cx="381.3" cy="288.4" r="2.2" fill="#000"/><circle cx="384.1" cy="284.9" r="2.2" fill="#000"/><circle cx="386.2" cy="283.6" r="2.2" fill="#000"/><polyline points="388.6,223.0 388.8,153.0 388.7,110.0" fill="none" stroke="#000" stroke-width="1.0"/><polyline points="388.9,153.0 388.9,153.0" fill="none" stroke="#333" stroke-width="0.7"/><circle cx="388.9" cy="153.0" r="1.4" fill="#000"/><circle cx="388.9" cy="153.0" r="1.4" fill="#000"/><polyline points="388.8,110.0 389.4,72.6 391.2,58.0 391.6,55.4 394.1,76.8 394.7,90.2 395.4,100.6 397.0,107.0 398.4,115.7 401.4,134.5 404.5,159.8 407.2,168.8 410.4,177.7 413.7,198.7 417.0,214.8 420.4,221.8 423.2,233.3 426.4,243.4 429.7,247.6 433.1,250.3 435.9,255.9 439.3,259.2 442.5,261.0 445.2,270.4 448.6,268.1 451.9,271.8 454.9,272.2 457.8,273.6 461.3,272.4 464.9,279.8 467.8,275.6 470.6,278.3 473.9,279.7 477.2,281.0 480.5,280.7 483.7,279.6 487.0,281.5 490.3,282.6 493.6,282.0 496.8,281.8 500.1,279.5 502.9,277.9 505.8,280.9 509.1,276.3 512.4,275.5 515.6,274.6 518.9,275.5 522.2,277.1 525.5,279.5 528.7,281.2" fill="none" stroke="#333" stroke-width="0.7"/><circle cx="389.4" cy="72.6" r="2.2" fill="#000"/><circle cx="391.2" cy="58.0" r="2.2" fill="#000"/><circle cx="391.6" cy="55.4" r="2.2" fill="#000"/><circle cx="394.1" cy="76.8" r="2.2" fill="#000"/><circle cx="394.7" cy="90.2" r="2.2" fill="#000"/><circle cx="395.4" cy="100.6" r="2.2" fill="#000"/><circle cx="397.0" cy="107.0" r="2.2" fill="#000"/><circle cx="398.4" cy="115.7" r="2.2" fill="#000"/><circle cx="401.4" cy="134.5" r="2.2" fill="#000"/><circle cx="404.5" cy="159.8" r="2.2" fill="#000"/><circle cx="407.2" cy="168.8" r="2.2" fill="#000"/><circle cx="410.4" cy="177.7" r="2.2" fill="#000"/><circle cx="413.7" cy="198.7" r="2.2" fill="#000"/><circle cx="417.0" cy="214.8" r="2.2" fill="#000"/><circle cx="420.4" cy="221.8" r="2.2" fill="#000"/><circle cx="423.2" cy="233.3" r="2.2" fill="#000"/><circle cx="426.4" cy="243.4" r="2.2" fill="#000"/><circle cx="429.7" cy="247.6" r="2.2" fill="#000"/><circle cx="433.1" cy="250.3" r="2.2" fill="#000"/><circle cx="435.9" cy="255.9" r="2.2" fill="#000"/><circle cx="439.3" cy="259.2" r="2.2" fill="#000"/><circle cx="442.5" cy="261.0" r="2.2" fill="#000"/><circle cx="445.2" cy="270.4" r="2.2" fill="#000"/><circle cx="448.6" cy="268.1" r="2.2" fill="#000"/><circle cx="451.9" cy="271.8" r="2.2" fill="#000"/><circle cx="454.9" cy="272.2" r="2.2" fill="#000"/><circle cx="457.8" cy="273.6" r="2.2" fill="#000"/><circle cx="461.3" cy="272.4" r="2.2" fill="#000"/><circle cx="464.9" cy="279.8" r="2.2" fill="#000"/><circle cx="467.8" cy="275.6" r="2.2" fill="#000"/><circle cx="470.6" cy="278.3" r="2.2" fill="#000"/><circle cx="473.9" cy="279.7" r="2.2" fill="#000"/><circle cx="477.2" cy="281.0" r="2.2" fill="#000"/><circle cx="480.5" cy="280.7" r="2.2" fill="#000"/><circle cx="483.7" cy="279.6" r="2.2" fill="#000"/><circle cx="487.0" cy="281.5" r="2.2" fill="#000"/><circle cx="490.3" cy="282.6" r="2.2" fill="#000"/><circle cx="493.6" cy="282.0" r="2.2" fill="#000"/><circle cx="496.8" cy="281.8" r="2.2" fill="#000"/><circle cx="500.1" cy="279.5" r="2.2" fill="#000"/><circle cx="502.9" cy="277.9" r="2.2" fill="#000"/><circle cx="505.8" cy="280.9" r="2.2" fill="#000"/><circle cx="509.1" cy="276.3" r="2.2" fill="#000"/><circle cx="512.4" cy="275.5" r="2.2" fill="#000"/><circle cx="515.6" cy="274.6" r="2.2" fill="#000"/><circle cx="518.9" cy="275.5" r="2.2" fill="#000"/><circle cx="522.2" cy="277.1" r="2.2" fill="#000"/><circle cx="525.5" cy="279.5" r="2.2" fill="#000"/><circle cx="528.7" cy="281.2" r="2.2" fill="#000"/></g></svg></body></html>
